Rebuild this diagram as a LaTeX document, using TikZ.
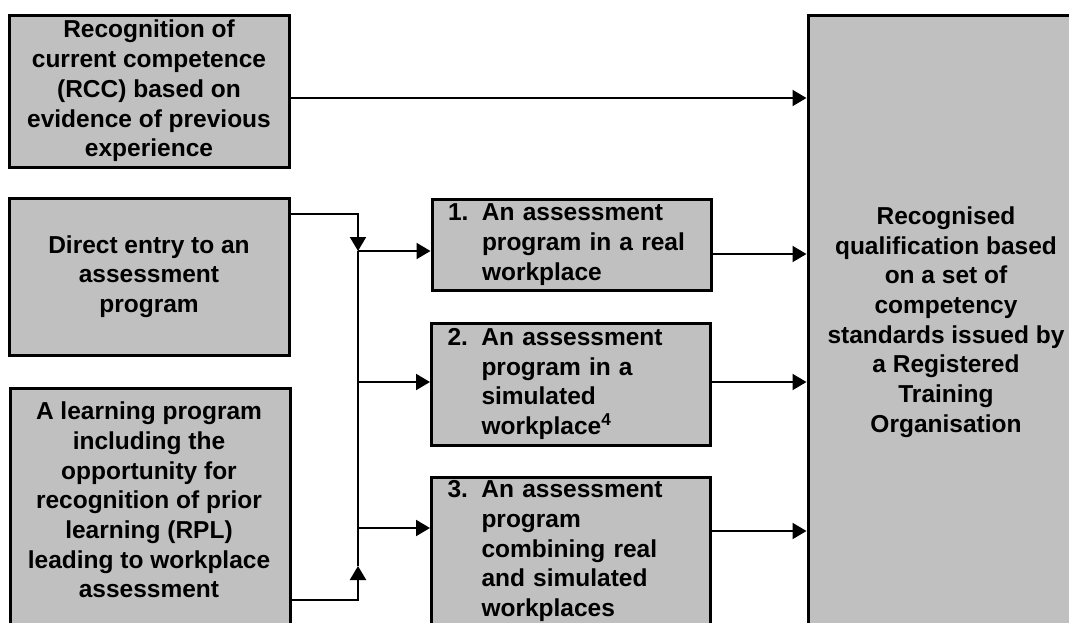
\documentclass[tikz,border=0pt]{standalone}
\usepackage{fontspec}
\setmainfont{Liberation Sans}
\usetikzlibrary{arrows.meta}
\definecolor{boxgray}{HTML}{C0C0C0}
\begin{document}
\begin{tikzpicture}[x=1pt,y=-1pt,
  txt/.style={inner sep=0pt, font=\bfseries\fontsize{24.5}{29.7}\selectfont},
  box/.style={txt, draw=black, line width=3pt, fill=boxgray},
  centred/.style={box, align=center},
  numbered/.style={box, align=left, text width=247pt, inner xsep=16pt},
  conn/.style={line width=2pt},
  arr/.style={conn, -{Triangle[length=14pt,width=16pt]}}
]
\useasboundingbox (0,0) rectangle (1069,622);
\clip (0,0) rectangle (1069,622);

% entry routes on the left
\node[centred, minimum width=280pt, minimum height=152pt] (rcc) at (149,91)
  {Recognition of\\current competence\\(RCC) based on\\evidence of previous\\experience};
\node[centred, minimum width=280pt, minimum height=157pt] (direct) at (149,276.5)
  {Direct entry to an\\assessment\\program};
\node[box, minimum width=280pt, minimum height=253pt, anchor=north west] (learn) at (9,387) {};
\node[txt, align=center] (learntext) at (149,500)
  {A learning program\\including the\\opportunity for\\recognition of prior\\learning (RPL)\\leading to workplace\\assessment};

% assessment programs
\node[numbered, minimum height=91pt] (p1) at (571.5,244.5)
  {\makebox[34pt][l]{1.}An assessment\\\hspace*{34pt}program in a real\\\hspace*{34pt}workplace};
\node[numbered, minimum height=122pt] (p2) at (571,384)
  {\makebox[34pt][l]{2.}An assessment\\\hspace*{34pt}program in a\\\hspace*{34pt}simulated\\\hspace*{34pt}workplace\textsuperscript{4}};
\node[numbered, minimum height=148pt] (p3) at (571,551)
  {\makebox[34pt][l]{3.}An assessment\\\hspace*{34pt}program\\\hspace*{34pt}combining real\\\hspace*{34pt}and simulated\\\hspace*{34pt}workplaces};

% outcome
\node[centred, minimum width=276pt, minimum height=614pt] (rq) at (946,322)
  {Recognised\\qualification based\\on a set of\\competency\\standards issued by\\a Registered\\Training\\Organisation};

% connectors
\coordinate (j1) at (358,251);
\coordinate (j2) at (358,566);
\draw[arr] (rcc.east |- 0,98) -- (rq.west |- 0,98);
\draw[arr] (direct.east |- 0,214) -| (j1);
\draw[conn] (j1) -- (j2);
\draw[arr] (learn.east |- 0,600) -| (j2);
\draw[arr] (j1) -- (p1.west |- j1);
\draw[arr] (j1 |- 0,382) -- (p2.west |- 0,382);
\draw[arr] (j1 |- 0,528) -- (p3.west |- 0,528);
\draw[arr] (p1.east |- 0,254) -- (rq.west |- 0,254);
\draw[arr] (p2.east |- 0,382) -- (rq.west |- 0,382);
\draw[arr] (p3.east |- 0,531) -- (rq.west |- 0,531);
\end{tikzpicture}
\end{document}
